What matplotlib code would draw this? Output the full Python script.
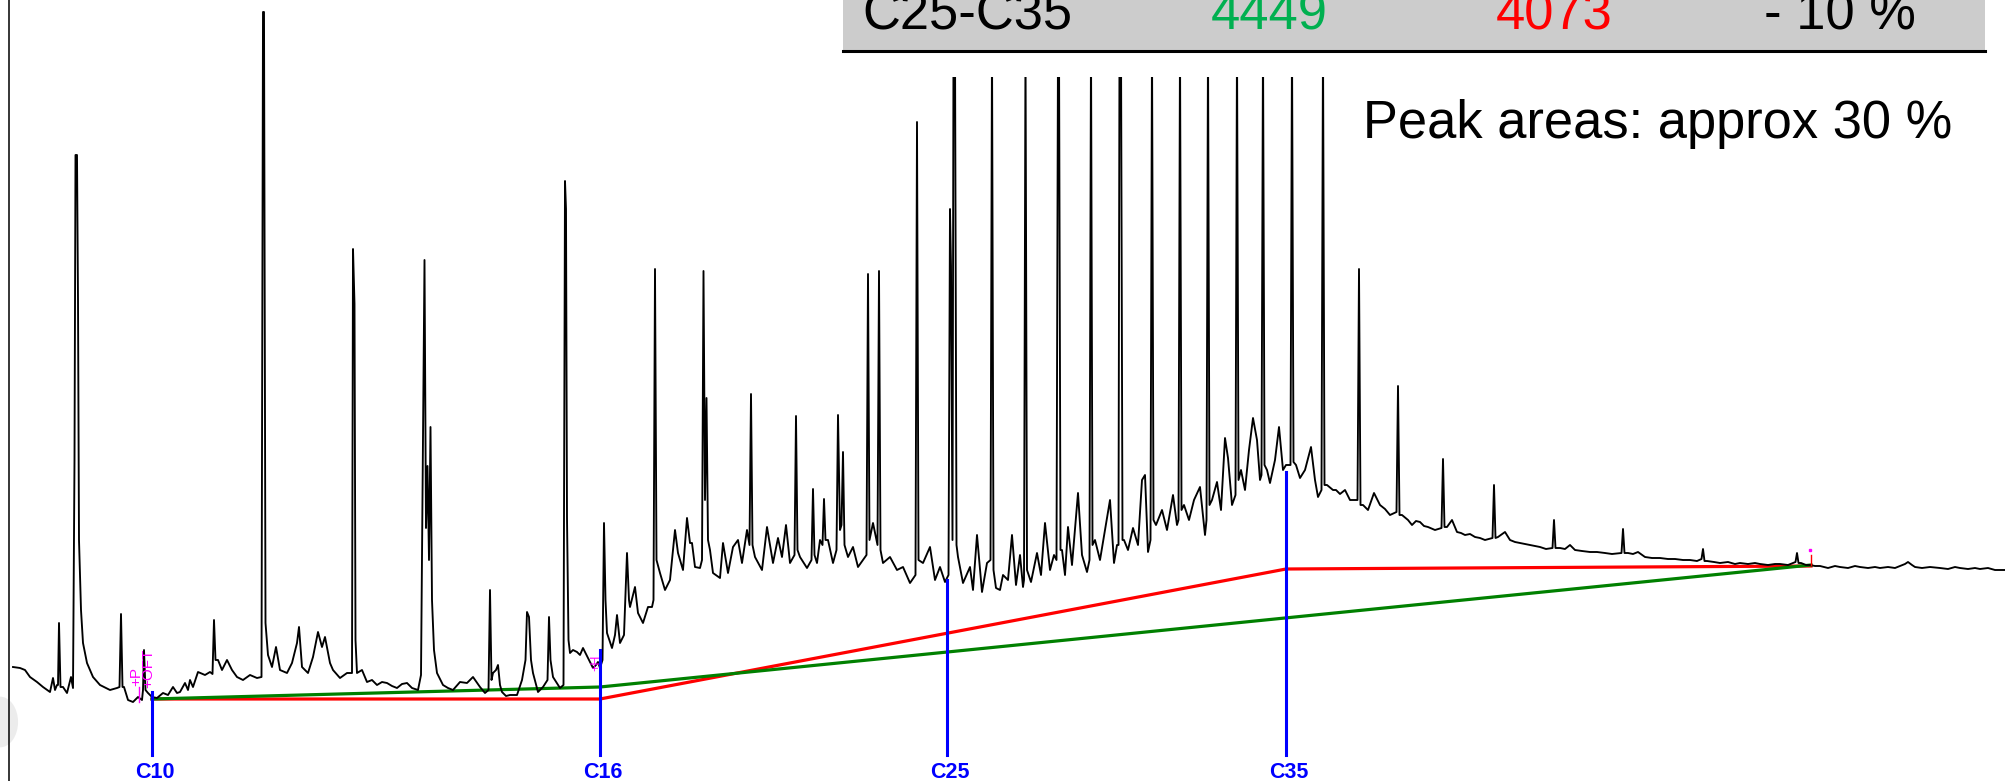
import matplotlib
matplotlib.use("Agg")
import matplotlib.pyplot as plt
from matplotlib.patches import Rectangle, Ellipse

plt.rcParams['font.family'] = ['Liberation Sans', 'DejaVu Sans']

# ---------------- data (retention position, detector signal) ----------------
trace_start = [
    (13, 32), (20, 31), (25, 29), (30, 22), (37, 17), (43, 12), (50, 7), (53, 21),
    (55, 9), (57, 14), (58, 14), (59, 76), (60.5, 12), (63, 12), (67, 6), (71, 22),
    (73, 11), (74.5, 239), (75.5, 544), (77, 544), (78, 399), (79, 159), (81, 89),
    (83, 56), (87, 36), (93, 22), (100, 14), (110, 9), (117, 11), (119.5, 12),
    (121, 85), (122.5, 12), (124, 12), (128, -1), (133, -3), (138, 2), (142, -1),
    (143, 9), (144, 49), (145.5, 9), (148, 6), (152, 2),
]
trace_c10_c16a = [
    (157, 1), (163, 6), (168, 4), (173, 12), (177, 6), (180, 7), (185, 16), (188, 9),
    (190, 19), (193, 12), (198, 27), (205, 24), (210, 27), (212.5, 25), (214, 79),
    (215.5, 39), (218, 39), (222, 29), (227, 39), (232, 29), (237, 22), (243, 19),
    (250, 24), (257, 21), (261.5, 22), (263, 687), (264, 687), (265.5, 76), (268, 44),
    (272, 32), (276, 52), (280, 29), (287, 26), (292, 36), (297, 56), (299, 72),
    (302, 32), (308, 26), (313, 42), (318, 67), (322, 52), (325, 62), (330, 36),
    (333, 29), (340, 21), (347, 26),
]
trace_c10_c16b = [
    (352, 26), (353, 450), (354.5, 395), (355.5, 59), (357, 26), (362, 29), (367, 17),
    (372, 19), (377, 14), (382, 17), (387, 16), (392, 13), (397, 11), (402, 15),
    (407, 16), (412, 11), (418, 9), (421, 24), (422.5, 199), (424.5, 439), (426, 171),
    (427.5, 233), (429, 139), (430.5, 272), (432, 99), (434, 49), (437, 26), (443, 14),
    (448, 11), (453, 9), (460, 17), (467, 16), (473, 22), (480, 12), (485, 6),
    (488.5, 9), (490, 109), (491.5, 19), (493, 26), (496, 29), (498, 34), (500, 14),
    (502, 7), (506, 3), (510, 4), (517, 4), (522, 19), (525.5, 39), (527, 87),
    (529, 82), (531, 39), (533, 26), (538, 7), (543, 12), (547.5, 19), (549, 82),
    (550.5, 39), (553, 22), (560, 11), (563.5, 14), (565, 518), (566, 490), (567, 181),
    (568.5, 59), (570, 46), (573, 49), (577, 47), (580, 44), (583, 51), (588, 41),
    (593, 31), (596, 34), (598, 37), (600, 31),
]
trace_c16_c25 = [
    (602.5, 39), (604, 176), (605.5, 99), (607, 66), (612, 51), (615, 64), (617, 84),
    (620, 56), (624, 64), (627, 146), (629, 99), (630, 92), (635, 112), (638, 86),
    (643, 76), (648, 92), (652, 92), (653.5, 99), (655, 430), (656.5, 139), (660, 126),
    (665, 109), (670, 119), (675, 169), (678, 146), (683, 129), (687, 181), (690, 156),
    (692, 156), (695, 132), (700, 131), (702, 139), (703.5, 428), (705, 199),
    (706.5, 301), (708, 159), (710, 149), (713, 126), (720, 121), (723, 156), (728, 126),
    (733, 152), (738, 159), (742, 136), (747, 169), (749.5, 154), (751, 305),
    (752.5, 154), (755, 142), (762, 129), (767, 172), (773, 136), (778, 161), (782, 142),
    (786, 174), (790, 136), (794.5, 144), (796, 283), (797.5, 149), (800, 142),
    (807, 131), (811.5, 139), (813, 210), (814.5, 144), (817, 136), (820, 159),
    (822.5, 154), (824, 200), (825.5, 159), (828, 159), (833, 136), (836.5, 149),
    (838, 284), (840, 169), (841.5, 174), (843, 247), (844.5, 154), (848, 142),
    (853, 152), (858, 132), (863, 139), (866.5, 144), (868, 425), (869.5, 159),
    (873, 176), (877.5, 154), (879, 428), (880.5, 149), (883, 136), (890, 142),
    (897, 129), (903, 132), (910, 116), (915.5, 124), (917, 577), (918.5, 139),
    (923, 136), (930, 152), (935, 119), (940, 132), (945, 117),
]
trace_c25_c35 = [
    (948.5, 124), (950, 490), (951, 433), (952.5, 159), (953.5, 659), (955, 659),
    (956.5, 154), (958, 142), (963, 116), (970, 132), (973, 109), (977, 164), (982, 107),
    (987, 136), (990.5, 139), (992, 659), (993.5, 129), (996, 111), (1000, 109),
    (1003, 124), (1008, 119), (1012, 164), (1016, 114), (1020, 144), (1023, 112),
    (1024, 119), (1025.5, 659), (1027, 129), (1031, 117), (1037, 146), (1041, 124),
    (1045, 176), (1050, 129), (1054, 144), (1056.5, 139), (1058, 659), (1059, 659),
    (1060.5, 149), (1062, 149), (1065, 124), (1068, 172), (1072, 134), (1078, 206),
    (1082, 144), (1087, 127), (1089.5, 139), (1091, 659), (1092.5, 154), (1095, 159),
    (1100, 139), (1105, 169), (1110, 199), (1114, 136), (1117, 154), (1118.5, 154),
    (1119.5, 659), (1121, 659), (1122.5, 159), (1124, 159), (1128, 149), (1133, 171),
    (1138, 154), (1142, 219), (1145, 224), (1148, 147), (1150.5, 159), (1152, 659),
    (1153.5, 179), (1156, 174), (1162, 189), (1167, 169), (1173, 204), (1177, 174),
    (1178.5, 179), (1180, 659), (1181.5, 189), (1184, 194), (1189, 179), (1194, 199),
    (1200, 212), (1205, 164), (1206.5, 179), (1208, 659), (1209.5, 194), (1212, 199),
    (1217, 217), (1221, 189), (1225, 261), (1228, 241), (1232, 194), (1235.5, 204),
    (1237, 659), (1238.5, 219), (1241, 229), (1245, 209), (1249, 249), (1253, 281),
    (1257, 259), (1260, 219), (1261.5, 224), (1263, 659), (1264.5, 234), (1267, 229),
    (1270, 216), (1275, 239), (1279, 272), (1283, 229), (1286, 234),
]
trace_after_c35 = [
    (1290.5, 234), (1292, 659), (1293.5, 237), (1296, 234), (1300, 221), (1305, 229),
    (1311, 252), (1315, 219), (1318, 202), (1321.5, 209), (1323, 659), (1324.5, 214),
    (1327, 214), (1333, 209), (1336, 209), (1340, 205), (1345, 209), (1350, 199),
    (1357.5, 199), (1359, 430), (1360.5, 194), (1363, 194), (1368, 189), (1374, 206),
    (1380, 194), (1385, 190), (1390, 184), (1396.5, 187), (1398, 313), (1399.5, 184),
    (1402, 184), (1408, 179), (1412, 174), (1416, 178), (1420, 177), (1424, 173),
    (1428, 172), (1435, 169), (1441.5, 171), (1443, 240), (1444.5, 172), (1447, 172),
    (1452, 179), (1457, 167), (1461, 166), (1465, 164), (1470, 165), (1475, 162),
    (1480, 161), (1485, 159), (1492.5, 161), (1494, 214), (1495.5, 161), (1498, 162),
    (1505, 167), (1510, 159), (1515, 157), (1520, 156), (1525, 155), (1530, 154),
    (1535, 153), (1540, 152), (1546, 150), (1552.5, 151), (1554, 179), (1555.5, 151),
    (1560, 151), (1565, 150), (1570, 154), (1575, 149), (1582, 148), (1590, 147),
    (1597, 147), (1605, 146), (1612, 145), (1621.5, 146), (1623, 170), (1624.5, 146),
    (1628, 146), (1633, 145), (1638, 147), (1645, 142), (1652, 141), (1660, 141),
    (1668, 140), (1675, 140), (1683, 139), (1690, 139), (1697, 138), (1701.5, 140),
    (1703, 150), (1704.5, 138), (1707, 138), (1714, 137), (1720, 136), (1728, 137),
    (1735, 135), (1740, 136), (1748, 135), (1755, 136), (1760, 135), (1768, 134),
    (1775, 135), (1780, 135), (1788, 134), (1795.5, 137), (1797, 146), (1798.5, 136),
    (1801, 136), (1806, 134), (1810, 134), (1815, 133), (1820, 133), (1828, 131),
    (1835, 133), (1840, 132), (1848, 131), (1855, 133), (1860, 132), (1868, 131),
    (1875, 132), (1880, 131), (1888, 132), (1895, 131), (1900, 133), (1905, 135),
    (1908, 137), (1912, 134), (1915, 132), (1922, 131), (1930, 132), (1940, 131),
    (1948, 130), (1955, 132), (1960, 131), (1968, 130), (1975, 131), (1980, 130),
    (1988, 131), (1995, 129), (2006, 129),
]

# integration baselines
red_baseline_t = [152, 600, 1286, 1811]
red_baseline_s = [0, 0, 130, 133]
green_baseline_t = [152, 600, 1811]
green_baseline_s = [0, 12, 134]

# carbon number markers
marker_names = ["C10", "C16", "C25", "C35"]
marker_t = [152, 600, 947, 1286]
marker_top = [7, 49, 119, 227]

# result table
table_row = ["C25-C35", "4449", "4073", "- 10 %"]
note_text = "Peak areas: approx 30 %"

# ---------------- drawing ----------------
W, H = 2006, 781
fig = plt.figure(figsize=(W / 100, H / 100), dpi=100)
ax = fig.add_axes([0, 0, 1, 1])
ax.set_xlim(0, W)
ax.set_ylim(-82, 699)
ax.axis('off')


def fx(px):
    return px / W


def fy(py):
    return 1 - py / H


# faint grey watermark fragment at left edge
ax.add_patch(Ellipse((fx(0), fy(722)), 0.018, 0.065, transform=ax.transAxes,
                     facecolor='#ececec', edgecolor='none', zorder=0))

# left axis line
ax.plot([fx(9.5), fx(9.5)], [0, 1], transform=ax.transAxes, color='black', lw=1.1, zorder=3)

points = trace_start + trace_c10_c16a + trace_c10_c16b + trace_c16_c25 + trace_c25_c35 + trace_after_c35
tt = [p[0] for p in points]
ss = [p[1] for p in points]
ax.plot(tt, ss, color='black', lw=1.35, zorder=3)

ax.plot(red_baseline_t, red_baseline_s, color='#ff0000', lw=2.3, zorder=2)
ax.plot(green_baseline_t, green_baseline_s, color='#008000', lw=2.3, zorder=2.5)

for name, t, top in zip(marker_names, marker_t, marker_top):
    ax.plot([t, t], [top, -56], color='#0000ff', lw=2.2, zorder=4)
    ax.text(t + 3, -79, name, ha='center', va='baseline', fontsize=15.5,
            fontweight='bold', color='#0000ff', zorder=4)

# integration event marks (magenta)
ax.text(136, 13, "+P", rotation=90, ha='center', va='bottom', fontsize=11, color='#ff00ff', zorder=4)
ax.text(148, 11, "+OFT", rotation=90, ha='center', va='bottom', fontsize=11, color='#ff00ff', zorder=4)
ax.plot([139, 139], [-3, 12], color='#ff00ff', lw=1.0, zorder=4)
ax.text(596, 28, "+H", rotation=90, ha='center', va='bottom', fontsize=9, color='#ff00ff', zorder=4)
ax.plot([1811, 1811], [134, 144], color='#ff0000', lw=1.0, zorder=4)
ax.plot([1810], [149], marker='s', ms=1.5, color='#ff00ff', zorder=4)

# overlay: white cover + grey table row
ax.add_patch(Rectangle((fx(843), fy(77)), fx(1985 - 843), 77 / H, transform=ax.transAxes,
                       facecolor='white', edgecolor='none', zorder=6))
ax.add_patch(Rectangle((fx(843), fy(51)), fx(1985 - 843), 51 / H, transform=ax.transAxes,
                       facecolor='#cccccc', edgecolor='none', zorder=6))
ax.plot([fx(843), fx(1985)], [fy(51), fy(51)], transform=ax.transAxes, color='black', lw=2.2, zorder=7)

col_x = [862, 1211, 1496, 1764]
col_c = ['black', '#00b050', '#ff0000', 'black']
for txt, x, c in zip(table_row, col_x, col_c):
    ax.text(fx(x), fy(30), txt, transform=ax.transAxes, ha='left', va='baseline',
            fontsize=37.8, color=c, zorder=8)

ax.text(fx(1363), fy(138), note_text, transform=ax.transAxes, ha='left', va='baseline',
        fontsize=37.8, color='black', zorder=8)

fig.savefig("out.png", dpi=100)
